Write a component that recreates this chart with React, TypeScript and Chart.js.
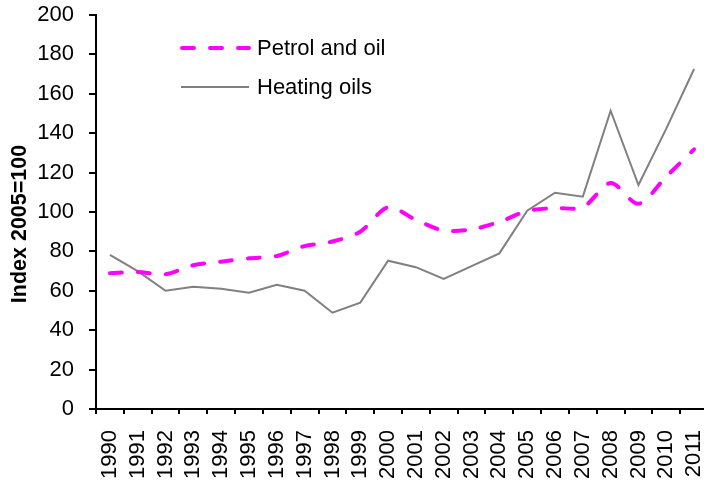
import React, { useEffect, useRef } from "react";
import { Chart, registerables } from "chart.js";

Chart.register(...registerables);

const years = ["1990","1991","1992","1993","1994","1995","1996","1997","1998","1999","2000","2001","2002","2003","2004","2005","2006","2007","2008","2009","2010","2011"];
const petrolAndOil = [68.9, 69.5, 68.4, 73, 74.8, 76.5, 77.7, 82.7, 85, 90, 102.4, 96, 90.6, 91.2, 95, 100.5, 102, 102.4, 114.7, 104.2, 118, 131.8];
const heatingOils = [78.2, 70, 60, 62, 61, 59, 63, 60, 48.9, 54, 75.3, 72, 66, 72.5, 79, 100.7, 109.8, 107.8, 151.4, 113.7, 142.3, 172.6];
const yTicks = { min: 0, max: 200, step: 20 };
const yTitle = "Index 2005=100";

const FONT = "'Liberation Sans', Arial, sans-serif";

const overlayPlugin = {
  id: "overlay",
  afterDraw(chart: any) {
    const ctx = chart.ctx;
    ctx.save();
    // y-axis title
    ctx.translate(20, 224);
    ctx.rotate(-Math.PI / 2);
    ctx.font = `bold 21.5px ${FONT}`;
    ctx.fillStyle = "#000";
    ctx.textAlign = "center";
    ctx.textBaseline = "middle";
    ctx.fillText(yTitle, 0, 0);
    ctx.restore();

    // legend
    const items = chart.data.datasets.map((ds: any, i: number) => ({ ds, y: i === 0 ? 48 : 87 }));
    ctx.save();
    items.forEach(({ ds, y }: any) => {
      ctx.beginPath();
      ctx.strokeStyle = ds.borderColor;
      ctx.lineWidth = ds.borderWidth;
      ctx.lineCap = ds.borderCapStyle || "butt";
      ctx.setLineDash(ds.borderDash || []);
      ctx.moveTo(ds.borderDash ? 182 : 181, y);
      ctx.lineTo(249, y);
      ctx.stroke();
      ctx.setLineDash([]);
      ctx.font = `22px ${FONT}`;
      ctx.fillStyle = "#000";
      ctx.textAlign = "left";
      ctx.textBaseline = "middle";
      ctx.fillText(ds.label, 257, y + 1);
    });
    ctx.restore();
  },
};

export default function App() {
  const ref = useRef<HTMLCanvasElement>(null);
  useEffect(() => {
    document.body.style.margin = "0";
    const chart = new Chart(ref.current!, {
      type: "line",
      data: {
        labels: years,
        datasets: [
          {
            label: "Petrol and oil",
            data: petrolAndOil,
            borderColor: "#FF00FF",
            borderWidth: 4,
            borderDash: [12, 16],
            borderCapStyle: "round",
            pointRadius: 0,
            tension: 0.3,
            fill: false,
          },
          {
            label: "Heating oils",
            data: heatingOils,
            borderColor: "#808080",
            borderWidth: 2,
            pointRadius: 0,
            tension: 0,
            fill: false,
          },
        ],
      },
      options: {
        animation: false,
        responsive: false,
        devicePixelRatio: 1,
        layout: { padding: { top: 15, right: 4, left: 0, bottom: 0 } },
        plugins: { legend: { display: false }, tooltip: { enabled: false } },
        scales: {
          x: {
            type: "category",
            offset: true,
            afterFit: (s: any) => { s.height = 75; s.paddingLeft = 0; s.paddingRight = 0; },
            grid: { drawOnChartArea: false, drawTicks: true, tickLength: 5, color: "#000", lineWidth: 2, offset: true },
            border: { display: true, color: "#000", width: 2 },
            ticks: {
              color: "#000",
              font: { family: FONT, size: 22 },
              minRotation: 90,
              maxRotation: 90,
              autoSkip: false,
              padding: 16,
            },
          },
          y: {
            min: yTicks.min,
            max: yTicks.max,
            afterFit: (s: any) => { s.width = 96; s.paddingTop = 0; s.paddingBottom = 0; },
            grid: { drawOnChartArea: false, drawTicks: true, tickLength: 7, color: "#000", lineWidth: 2 },
            border: { display: true, color: "#000", width: 2 },
            ticks: {
              stepSize: yTicks.step,
              color: "#000",
              font: { family: FONT, size: 22 },
              padding: 15,
            },
          },
        },
      },
      plugins: [overlayPlugin],
    });
    return () => chart.destroy();
  }, []);
  return (
    <div style={{ position: "fixed", left: 0, top: 0, width: 704, height: 484, overflow: "hidden", background: "#fff" }}>
      <canvas ref={ref} width={712} height={484} style={{ width: 712, height: 484, display: "block" }} />
    </div>
  );
}
